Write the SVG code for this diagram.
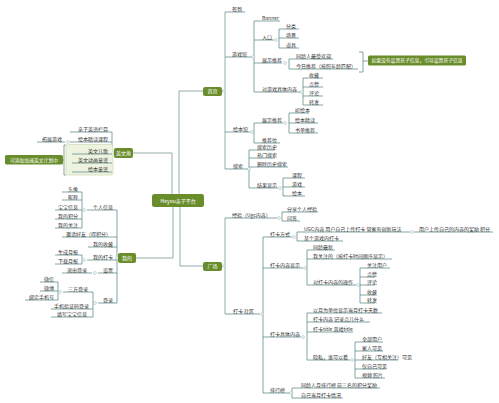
<svg xmlns="http://www.w3.org/2000/svg" width="499" height="403" viewBox="0 0 499 403">
<style>
text{font-family:"Noto Sans CJK SC","Noto Sans",sans-serif;font-size:5px;fill:#333}
.e{text-anchor:end}
.w{fill:#fff;text-anchor:middle}
.n{fill:#6a8d2c}
.m{stroke:#93adac;stroke-width:1;fill:none}
.u{stroke:#4e7f82;stroke-width:0.7;fill:none}
.c{fill:#fff;stroke:#93adac;stroke-width:0.5}
</style>
<rect width="499" height="403" fill="#fff"/>
<g id="connectors">
<path class="m" d="M179,194V91H203M172,194V153H133M173,207V258H136M180,207V266H203"/>
<path class="m" d="M222,91H225M225,12V169M222,266H225M225,218V314"/>
<path class="u" d="M225,12H245M225,57H252M225,132H250M225,169H248"/>
<path class="u" d="M254,21V92M254,21H280M254,40H274M254,63H282M254,92H301"/>
<path class="u" d="M279,29V48M279,29H299M279,38H299M279,48H299"/>
<path class="u" d="M289,59V69M289,59H333M289,69H358"/>
<path class="u" d="M303,78V105M303,78H323M303,87H323M303,96H323M303,105H323"/>
<path class="u" d="M254,123V143M254,123H283M254,143H280"/>
<path class="u" d="M289,113V133M289,113H309M289,123H318M289,133H318"/>
<path class="u" d="M249,150V188M249,150H275M249,158H275M249,167H288M249,188H278"/>
<path class="u" d="M283,178V196M283,178H305M283,187H305M283,196H305"/>
<path class="u" d="M359,52H363V72H359M363,61H368"/>
<path class="u" d="M112,132V172M112,132H70M112,142H70M112,154H72M112,163H72M112,172H72M65,142H37"/>
<path class="u" d="M66,145H64V175H66M64,160H63"/>
<path class="u" d="M118,258H117M117,210V303M117,210H87M117,237H62M117,247H88M117,260H87M117,273H98M117,303H98"/>
<path class="u" d="M82,192V228M82,192H62M82,200H62M82,210H55M82,219H55M82,228H55"/>
<path class="u" d="M82,255V264M82,255H55M82,264H55"/>
<path class="u" d="M92,273H62"/>
<path class="u" d="M93,292V317M93,292H63M93,309H51M93,317H51"/>
<path class="u" d="M58,282V300M58,282H40M58,291H40M58,300H25"/>
<path class="u" d="M225,218H277M225,314H260"/>
<path class="u" d="M282,212V221M282,212H318M282,221H300"/>
<path class="u" d="M263,237V393M263,237H292M263,268H303M263,337H301M263,393H290"/>
<path class="u" d="M297,232V241M297,232H410M297,241H343M414,232H493"/>
<path class="u" d="M307,250V285M307,250H335M307,259H392M307,285H356"/>
<path class="u" d="M360,268V303M360,268H390M360,277H375M360,285H375M360,295H375M360,303H375"/>
<path class="u" d="M307,313V360M307,313H382M307,322H370M307,332H353M307,360H350"/>
<path class="u" d="M355,342V378M355,342H383M355,351H383M355,360H398M355,369H386M355,378H385"/>
<path class="u" d="M292,388V398M292,388H380M292,398H343"/>
<g>
<circle class="c" cx="224" cy="91" r="1.4"/><circle class="c" cx="253" cy="57" r="1.4"/><circle class="c" cx="276" cy="40" r="1.4"/><circle class="c" cx="285" cy="63" r="1.4"/><circle class="c" cx="302" cy="92" r="1.4"/><circle class="c" cx="252" cy="132" r="1.4"/><circle class="c" cx="285" cy="123" r="1.4"/><circle class="c" cx="249" cy="169" r="1.4"/><circle class="c" cx="280" cy="188" r="1.4"/>
<circle class="c" cx="68" cy="142" r="1.4"/><circle class="c" cx="113" cy="153" r="1.4"/>
<circle class="c" cx="84" cy="210" r="1.4"/><circle class="c" cx="84" cy="260" r="1.4"/><circle class="c" cx="95" cy="273" r="1.4"/><circle class="c" cx="95" cy="303" r="1.4"/><circle class="c" cx="60" cy="292" r="1.4"/><circle class="c" cx="117" cy="258" r="1.4"/>
<circle class="c" cx="224" cy="266" r="1.4"/><circle class="c" cx="279" cy="218" r="1.4"/><circle class="c" cx="262" cy="314" r="1.4"/><circle class="c" cx="294" cy="237" r="1.4"/><circle class="c" cx="412" cy="232" r="1.4"/><circle class="c" cx="305" cy="268" r="1.4"/><circle class="c" cx="358" cy="285" r="1.4"/><circle class="c" cx="303" cy="337" r="1.4"/><circle class="c" cx="352" cy="360" r="1.4"/><circle class="c" cx="291" cy="393" r="1.4"/>
</g>
</g>
<g id="central"><rect class="n" x="152" y="194" width="52" height="13" rx="2.5"/><text class="w" x="178" y="202.5">Meyou亲子平台</text></g>
<g id="n-home"><rect class="n" x="203" y="87" width="19" height="9" rx="2"/><text class="w" x="212.5" y="93.3">首页</text>
<text x="232" y="10.5">签到</text><text x="232" y="55.5">游戏馆</text><text x="233" y="130.5">绘本馆</text><text x="233" y="167.5">搜索</text>
<text x="262" y="19.5">Banner</text><text x="262" y="38.5">入口</text><text x="262" y="61.5">展示推荐</text><text x="262" y="90.5">对游戏具体内容</text>
<text x="286" y="27.5">分类</text><text x="286" y="36.5">场景</text><text x="286" y="46.5">道具</text>
<text x="296" y="57.5">同龄人最受欢迎</text><text x="296" y="67.5">今日推荐（按照年龄匹配）</text>
<text x="309" y="76.5">收藏</text><text x="309" y="85.5">点赞</text><text x="309" y="94.5">评论</text><text x="309" y="103.5">转发</text>
<text x="262" y="121.5">展示推荐</text><text x="262" y="141.5">推荐位</text>
<text x="295" y="111.5">听绘本</text><text x="295" y="121.5">绘本精读</text><text x="295" y="131.5">书单推荐</text>
<text x="257" y="148.5">搜索历史</text><text x="257" y="156.5">热门搜索</text><text x="257" y="165.5">删除历史搜索</text><text x="257" y="186.5">结果显示</text>
<text x="292" y="176.5">课程</text><text x="292" y="185.5">游戏</text><text x="292" y="194.5">绘本</text>
</g>
<g id="callout-right"><rect class="n" x="368" y="55.5" width="98" height="10" rx="1.5"/><text class="w" x="417" y="62.3" style="font-size:4.8px">如果没有设置孩子信息，引导设置孩子信息</text></g>
<g id="n-english">
<rect x="66" y="144.5" width="47" height="30.5" rx="2" fill="#eef3df" stroke="#c6d5a6" stroke-width="0.6"/>
<path class="u" d="M112,154H72M112,163H72M112,172H72"/>
<rect class="n" x="114" y="148" width="19" height="10" rx="2"/><text class="w" x="123.5" y="154.8">英文角</text>
<text class="e" x="108" y="130.5">亲子英语栏目</text><text class="e" x="108" y="140.5">绘本精读课程</text><text class="e" x="62" y="140.5">拓展游戏</text>
<text class="e" x="108" y="152.5">英文儿歌</text><text class="e" x="108" y="161.5">英文动画童谣</text><text class="e" x="108" y="170.5">绘本童谣</text>
</g>
<g id="callout-left"><rect class="n" x="5" y="155" width="58" height="9.5" rx="1.5"/><text class="w" x="34" y="161.5" style="font-size:4.8px">可添加加速英文计划中</text></g>
<g id="n-mine"><rect class="n" x="118" y="253" width="18" height="10" rx="2"/><text class="w" x="127" y="259.8">我的</text>
<text class="e" x="113" y="208.5">个人信息</text><text x="66" y="235.5">邀请好友（得积分）</text><text class="e" x="113" y="245.5">我的收藏</text><text class="e" x="113" y="258.5">我的打卡</text><text class="e" x="113" y="271.5">设置</text><text class="e" x="113" y="301.5">登录</text>
<text class="e" x="78" y="190.5">头像</text><text class="e" x="78" y="198.5">昵称</text><text class="e" x="78" y="208.5">宝宝信息</text><text class="e" x="78" y="217.5">我的积分</text><text class="e" x="78" y="226.5">我的关注</text>
<text class="e" x="78" y="253.5">生成月报</text><text class="e" x="78" y="262.5">下载月报</text><text class="e" x="87" y="271.5">退出登录</text>
<text class="e" x="88" y="290.5">三方登录</text><text class="e" x="89" y="307.5">手机验证码登录</text><text class="e" x="87" y="315.5">填写宝宝信息</text>
<text class="e" x="54" y="280.5">微信</text><text class="e" x="54" y="289.5">微博</text><text class="e" x="54" y="298.5">绑定手机号</text>
</g>
<g id="n-square"><rect class="n" x="203" y="262" width="19" height="9" rx="2"/><text class="w" x="212.5" y="268.3">广场</text>
<text x="232" y="216.5">经验（Ugc内容）</text><text x="233" y="312.5">打卡 社区</text>
<text x="287" y="210.5">分享个人经验</text><text x="287" y="219.5">问答</text>
<text x="270" y="235.5">打卡方式</text><text x="270" y="266.5">打卡内容显示</text><text x="270" y="335.5">打卡具体内容</text><text x="270" y="391.5">排行榜</text>
<text x="304" y="230.5">UGC内容 用户自己上传打卡 管家有创新玩法</text><text x="419" y="230.5">用户上传自己的内容的奖励 积分</text><text x="304" y="239.5">某个游戏内打卡</text>
<text x="313" y="248.5">同龄最新</text><text x="313" y="257.5">我关注的（按打卡时间顺序显示）</text><text x="313" y="283.5">对打卡内容的操作</text>
<text x="367" y="266.5">关注用户</text><text x="367" y="275.5">点赞</text><text x="367" y="283.5">评论</text><text x="367" y="293.5">收藏</text><text x="367" y="301.5">转发</text>
<text x="313" y="311.5">以月为单位显示当月打卡天数</text><text x="313" y="320.5">打卡内容 记录点儿什么</text><text x="313" y="330.5">打卡title 游戏title</text><text x="313" y="358.5">隐私，谁可以看</text>
<text x="362" y="340.5">全部用户</text><text x="362" y="349.5">家人可见</text><text x="362" y="358.5">好友（互相关注）可见</text><text x="362" y="367.5">仅自己可见</text><text x="362" y="376.5">视频 照片</text>
<text x="301" y="386.5">同龄人月排行榜 前三名的积分奖励</text><text x="301" y="396.5">自己当月打卡情况</text>
</g>
</svg>
